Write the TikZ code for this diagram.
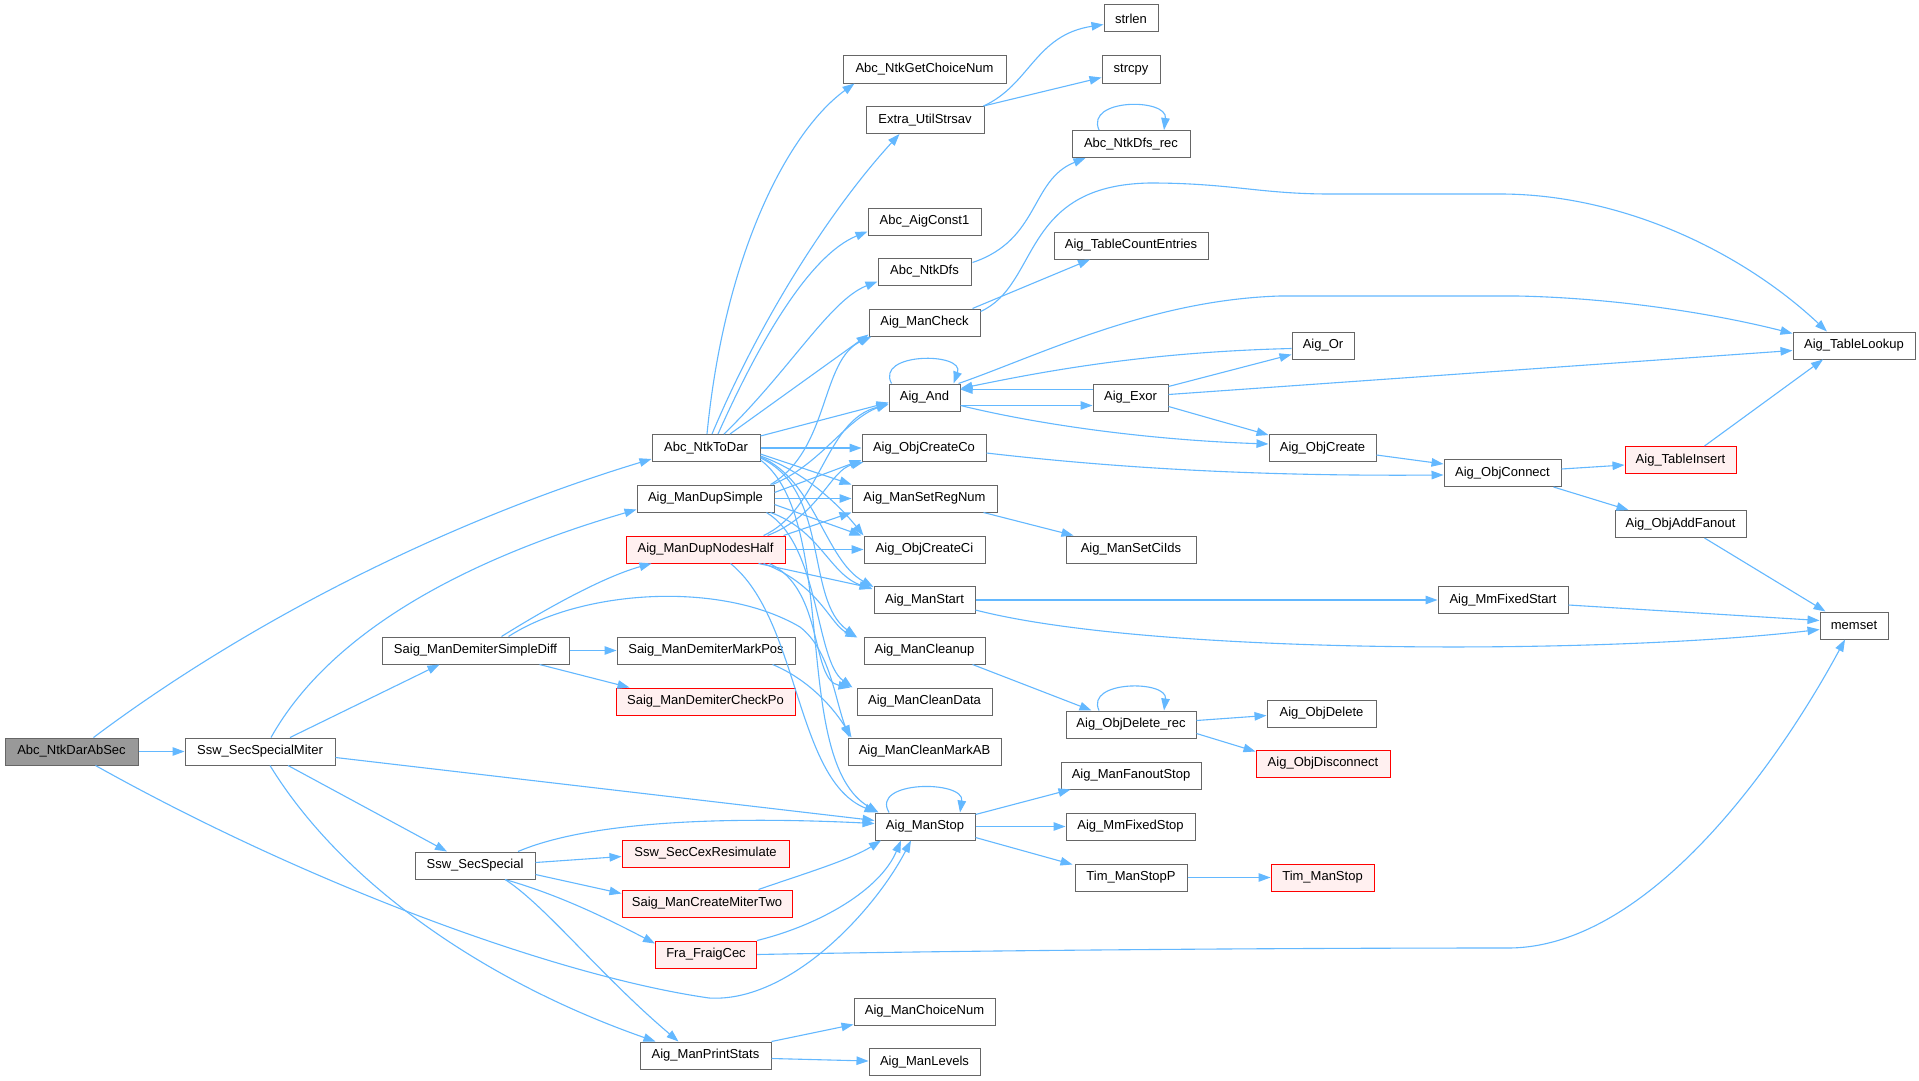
\documentclass[tikz,border=0pt]{standalone}
\usepackage{fontspec}
\setmainfont{Liberation Sans}
\usetikzlibrary{arrows.meta,calc}
\definecolor{edgeblue}{HTML}{63B8FF}
\definecolor{bordergray}{HTML}{666666}
\definecolor{rootgray}{HTML}{999999}
\definecolor{redborder}{HTML}{FF0000}
\definecolor{redfill}{HTML}{FFF0F0}
\tikzset{
  fn/.style={draw=bordergray, fill=white, line width=1pt, rectangle, minimum height=27pt,
    inner xsep=6pt, inner ysep=0pt, font=\fontsize{13pt}{15pt}\selectfont, anchor=center},
  redfn/.style={fn, draw=redborder, fill=redfill},
  rootfn/.style={fn, fill=rootgray},
  call/.style={draw=edgeblue, line width=1.1pt, -{Triangle[length=12pt,width=8.5pt]}},
}
\begin{document}
\begin{tikzpicture}[x=1pt,y=-1pt]
\fill[white] (0,0) rectangle (1919,1081);
\useasboundingbox (0,0) rectangle (1919,1081);

% column 0-2
\node[rootfn, minimum width=133pt] (root) at (71.5,751.5) {Abc\_NtkDarAbSec};
\node[fn, minimum width=150pt] (ssm) at (260,751.5) {Ssw\_SecSpecialMiter};
\node[fn, minimum width=187pt] (sdiff) at (475.5,650.5) {Saig\_ManDemiterSimpleDiff};
\node[fn, minimum width=120pt] (ss) at (475,865.5) {Ssw\_SecSpecial};
% column 3
\node[fn, minimum width=108pt] (ntd) at (706,448) {Abc\_NtkToDar};
\node[fn, minimum width=137pt] (dsimple) at (705.5,498.5) {Aig\_ManDupSimple};
\node[redfn, minimum width=159pt] (dnh) at (705.5,549.5) {Aig\_ManDupNodesHalf};
\node[fn, minimum width=178pt] (mpos) at (706,650.5) {Saig\_ManDemiterMarkPos};
\node[redfn, minimum width=179pt] (cpo) at (705.5,701.5) {Saig\_ManDemiterCheckPo};
\node[redfn, minimum width=167pt] (cex) at (705.5,853.5) {Ssw\_SecCexResimulate};
\node[redfn, minimum width=170pt] (cmt) at (707,903.5) {Saig\_ManCreateMiterTwo};
\node[redfn, minimum width=101pt] (fcec) at (706,954.5) {Fra\_FraigCec};
\node[fn, minimum width=131pt] (pstat) at (705.5,1055.5) {Aig\_ManPrintStats};
% column 4
\node[fn, minimum width=163pt] (gcn) at (924.5,69.5) {Abc\_NtkGetChoiceNum};
\node[fn, minimum width=118pt] (strsav) at (925,120) {Extra\_UtilStrsav};
\node[fn, minimum width=113pt] (const1) at (924.5,221.5) {Abc\_AigConst1};
\node[fn, minimum width=93pt] (dfs) at (924.5,271.5) {Abc\_NtkDfs};
\node[fn, minimum width=111pt] (mcheck) at (924.5,322.5) {Aig\_ManCheck};
\node[fn, minimum width=71pt] (and) at (924.5,397.5) {Aig\_And};
\node[fn, minimum width=124pt] (cco) at (924,448) {Aig\_ObjCreateCo};
\node[fn, minimum width=145pt] (srn) at (924.5,498.5) {Aig\_ManSetRegNum};
\node[fn, minimum width=121pt] (cci) at (924.5,549.5) {Aig\_ObjCreateCi};
\node[fn, minimum width=101pt] (mstart) at (924.5,600) {Aig\_ManStart};
\node[fn, minimum width=121pt] (mclean) at (924.5,650.5) {Aig\_ManCleanup};
\node[fn, minimum width=135pt] (cdata) at (924.5,701.5) {Aig\_ManCleanData};
\node[fn, minimum width=153pt] (cmab) at (924.5,751.5) {Aig\_ManCleanMarkAB};
\node[fn, minimum width=100pt] (mstop) at (925,826.5) {Aig\_ManStop};
\node[fn, minimum width=141pt] (choice) at (924.5,1011.5) {Aig\_ManChoiceNum};
\node[fn, minimum width=111pt] (levels) at (924.5,1062) {Aig\_ManLevels};
% column 5
\node[fn, minimum width=54pt] (strlen) at (1131,18.5) {strlen};
\node[fn, minimum width=58pt] (strcpy) at (1131,69.5) {strcpy};
\node[fn, minimum width=118pt] (dfsrec) at (1131,144) {Abc\_NtkDfs\_rec};
\node[fn, minimum width=154pt] (tce) at (1131,245.5) {Aig\_TableCountEntries};
\node[fn, minimum width=75pt] (exor) at (1130.5,397.5) {Aig\_Exor};
\node[fn, minimum width=130pt] (sciids) at (1131,549.5) {Aig\_ManSetCiIds};
\node[fn, minimum width=130pt] (delrec) at (1131,724.5) {Aig\_ObjDelete\_rec};
\node[fn, minimum width=140pt] (fostop) at (1131,775.5) {Aig\_ManFanoutStop};
\node[fn, minimum width=129pt] (mmstop) at (1130.5,826.5) {Aig\_MmFixedStop};
\node[fn, minimum width=112pt] (tstopp) at (1131,877.5) {Tim\_ManStopP};
% column 6
\node[fn, minimum width=62pt] (aor) at (1323,345.5) {Aig\_Or};
\node[fn, minimum width=107pt] (ocreate) at (1322.5,448) {Aig\_ObjCreate};
\node[fn, minimum width=109pt] (odel) at (1321.5,713.5) {Aig\_ObjDelete};
\node[redfn, minimum width=134pt] (odisc) at (1323,763.5) {Aig\_ObjDisconnect};
\node[redfn, minimum width=103pt] (tstop) at (1322.5,877.5) {Tim\_ManStop};
% column 7-9
\node[fn, minimum width=117pt] (oconn) at (1502.5,473) {Aig\_ObjConnect};
\node[fn, minimum width=130pt] (mmstart) at (1503,600) {Aig\_MmFixedStart};
\node[redfn, minimum width=111pt] (tins) at (1680.5,460) {Aig\_TableInsert};
\node[fn, minimum width=131pt] (afan) at (1680.5,524) {Aig\_ObjAddFanout};
\node[fn, minimum width=122pt] (tlook) at (1854,345.5) {Aig\_TableLookup};
\node[fn, minimum width=68pt] (memset) at (1854,625.5) {memset};

% ---- edges from root
\draw[call] ($(root.north)+(22,0)$) .. controls (250,620) and (450,520) .. ($(ntd.west)+(0,11)$);
\draw[call] (root.east) -- (ssm.west);
\draw[call] ($(root.south)+(24,0)$) .. controls (300,880) and (550,975) .. (709,998) .. controls (790,1003) and (875,910) .. ($(mstop.south)+(-14,0)$);

% ---- Ssw_SecSpecialMiter
\draw[call] ($(ssm.north)+(11,0)$) .. controls (320,650) and (430,570) .. ($(dsimple.south west)+(0,-3)$);
\draw[call] ($(ssm.north)+(30,0)$) -- ($(sdiff.south)+(-36,0)$);
\draw[call] ($(ssm.east)+(0,6)$) -- ($(mstop.west)+(0,-6)$);
\draw[call] ($(ssm.south)+(28,0)$) -- ($(ss.north)+(-28,0)$);
\draw[call] ($(ssm.south)+(10,0)$) .. controls (340,880) and (480,980) .. ($(pstat.north)+(-50,0)$);

% ---- Saig_ManDemiterSimpleDiff
\draw[call] ($(sdiff.north)+(26,0)$) .. controls (560,600) and (610,575) .. ($(dnh.south west)+(26,0)$);
\draw[call] ($(sdiff.north)+(33,0)$) .. controls (580,590) and (720,580) .. (800,627) .. controls (830,650) and (835,700) .. ($(cmab.north west)+(2,0)$);
\draw[call] (sdiff.east) -- (mpos.west);
\draw[call] ($(sdiff.south east)+(-30,0)$) -- ($(cpo.north west)+(14,0)$);
\draw[call] ($(mpos.south east)+(-23,0)$) .. controls (810,680) and (835,710) .. ($(cmab.north west)+(4,0)$);

% ---- Ssw_SecSpecial
\draw[call] ($(ss.north)+(43,0)$) .. controls (580,825) and (700,815) .. ($(mstop.west)+(0,-3)$);
\draw[call] ($(ss.east)+(0,-3)$) -- ($(cex.west)+(0,3)$);
\draw[call] ($(ss.east)+(0,9)$) -- ($(cmt.west)+(0,-10)$);
\draw[call] ($(ss.south)+(30,0)$) .. controls (560,895) and (610,920) .. ($(fcec.north west)+(0,3)$);
\draw[call] ($(ss.south)+(30,0)$) .. controls (545,905) and (600,975) .. ($(pstat.north)+(-27,0)$);

\draw[call] ($(cmt.north east)+(-34,0)$) .. controls (800,875) and (850,860) .. ($(mstop.south)+(-44,0)$);
\draw[call] (fcec.north east) .. controls (820,925) and (880,890) .. ($(mstop.south)+(-24,0)$);
\draw[call] (fcec.east) .. controls (1000,950) and (1300,948) .. (1508,948) .. controls (1650,948) and (1780,760) .. ($(memset.south)+(-9,0)$);
\draw[call] (pstat.north east) -- ($(choice.west)+(0,13)$);
\draw[call] ($(pstat.east)+(0,3)$) -- ($(levels.west)+(0,-1)$);

% ---- Abc_NtkToDar
\draw[call] ($(ntd.north)+(1,0)$) .. controls (725,250) and (790,130) .. ($(gcn.south west)+(12,0)$);
\draw[call] ($(ntd.north)+(6,0)$) .. controls (760,320) and (830,210) .. ($(strsav.south west)+(34,0)$);
\draw[call] ($(ntd.north)+(12,0)$) .. controls (760,340) and (810,255) .. ($(const1.west)+(0,10)$);
\draw[call] ($(ntd.north)+(18,0)$) .. controls (790,370) and (830,300) .. ($(dfs.west)+(0,10)$);
\draw[call] ($(ntd.north)+(24,0)$) -- ($(mcheck.south west)+(0,-2)$);
\draw[call] ($(ntd.north east)+(0,2)$) -- ($(and.west)+(0,5)$);
\draw[call] (ntd.east) -- (cco.west);
\draw[call] ($(ntd.east)+(0,6)$) -- (srn.north west);
\draw[call] ($(ntd.east)+(0,8)$) .. controls (800,470) and (835,500) .. (cci.north west);
\draw[call] ($(ntd.east)+(0,9)$) .. controls (815,480) and (825,560) .. ($(mstart.north west)+(0,1)$);
\draw[call] ($(ntd.east)+(0,10)$) .. controls (830,490) and (805,600) .. ($(mclean.north west)+(-7,0)$);
\draw[call] ($(ntd.east)+(0,12)$) .. controls (840,520) and (790,760) .. ($(mstop.north west)+(4,0)$);

% ---- Aig_ManDupSimple
\draw[call] ($(dsimple.north east)+(-4,0)$) .. controls (830,450) and (820,360) .. ($(mcheck.south west)+(3,0)$);
\draw[call] ($(dsimple.north east)+(-2,0)$) .. controls (820,465) and (845,420) .. ($(and.west)+(0,6)$);
\draw[call] ($(dsimple.east)+(0,-6)$) -- ($(cco.south west)+(0,-2)$);
\draw[call] (dsimple.east) -- (srn.west);
\draw[call] ($(dsimple.east)+(0,6)$) -- ($(cci.north west)+(-2,0)$);
\draw[call] ($(dsimple.south east)+(-4,0)$) .. controls (820,530) and (830,575) .. ($(mstart.north west)+(-1,3)$);
\draw[call] ($(dsimple.south east)+(-8,0)$) .. controls (820,545) and (815,660) .. ($(cdata.north west)+(-4,0)$);

% ---- Aig_ManDupNodesHalf
\draw[call] ($(dnh.north east)+(-22,0)$) .. controls (820,510) and (825,420) .. ($(and.west)+(0,7)$);
\draw[call] ($(dnh.north east)+(-18,0)$) .. controls (820,515) and (830,470) .. ($(cco.south west)+(2,0)$);
\draw[call] ($(dnh.north east)+(-2,0)$) -- (srn.south west);
\draw[call] (dnh.east) -- (cci.west);
\draw[call] ($(dnh.south east)+(-27,0)$) -- ($(mstart.north west)+(-2,2)$);
\draw[call] ($(dnh.south east)+(-22,0)$) .. controls (820,585) and (830,625) .. ($(mclean.north west)+(-6,1)$);
\draw[call] ($(dnh.south east)+(-16,0)$) .. controls (825,590) and (810,680) .. ($(cdata.north west)+(-6,0)$);
\draw[call] ($(dnh.south)+(25,0)$) .. controls (800,620) and (795,780) .. ($(mstop.north west)+(2,0)$);

% ---- column 4 outgoing
\draw[call] ($(strsav.north east)+(-1,0)$) .. controls (1030,85) and (1035,35) .. ($(strlen.west)+(0,6)$);
\draw[call] ($(strsav.north east)+(-1,0)$) -- ($(strcpy.west)+(0,8)$);
\draw[call] ($(dfs.north east)+(1,5)$) .. controls (1040,240) and (1030,180) .. ($(dfsrec.south west)+(14,0)$);
\draw[call] ($(dfsrec.north)+(-32,0)$) .. controls (1085,98) and (1168,98) .. ($(dfsrec.north)+(33,0)$);
\draw[call] ($(mcheck.north east)+(-8,0)$) -- ($(tce.south)+(-41,0)$);
\draw[call] ($(mcheck.north east)+(0,3)$) .. controls (1040,285) and (1020,185) .. (1150,183) .. controls (1230,183) and (1260,194) .. (1330,194) -- (1500,194) .. controls (1620,194) and (1740,250) .. ($(tlook.north)+(-27,0)$);

\draw[call] ($(and.north)+(-33,0)$) .. controls (875,352) and (965,352) .. ($(and.north)+(29,0)$);
\draw[call] ($(and.north east)+(-2,0)$) .. controls (1040,355) and (1150,300) .. (1280,296) -- (1517,296) .. controls (1620,298) and (1720,315) .. ($(tlook.north west)+(0,2)$);
\draw[call] ($(and.east)+(0,8)$) -- ($(exor.west)+(0,8)$);
\draw[call] ($(exor.west)+(0,-8)$) -- ($(and.east)+(0,-8)$);
\draw[call] ($(aor.west)+(0,3)$) .. controls (1150,352) and (1050,370) .. ($(and.east)+(0,-9)$);
\draw[call] ($(and.east)+(0,8)$) .. controls (1040,425) and (1150,440) .. ($(ocreate.west)+(0,-4)$);
\draw[call] ($(exor.north east)+(0,3)$) -- ($(aor.west)+(0,9)$);
\draw[call] ($(exor.east)+(0,-3)$) -- ($(tlook.west)+(0,5)$);
\draw[call] ($(exor.east)+(0,9)$) -- ($(ocreate.west)+(0,-13)$);

\draw[call] ($(cco.east)+(0,5)$) .. controls (1150,472) and (1300,476) .. ($(oconn.west)+(0,2)$);
\draw[call] ($(ocreate.east)+(0,7)$) -- ($(oconn.west)+(0,-9)$);
\draw[call] ($(oconn.east)+(0,-4)$) -- ($(tins.west)+(0,5)$);
\draw[call] ($(oconn.south east)+(-8,0)$) -- ($(afan.north west)+(14,0)$);
\draw[call] ($(tins.north)+(24,0)$) -- ($(tlook.south)+(-31,0)$);
\draw[call] ($(afan.south)+(24,0)$) -- ($(memset.north west)+(6,0)$);

\draw[call] (mstart.east) -- (mmstart.west);
\draw[call] ($(mstart.east)+(0,10)$) .. controls (1150,655) and (1600,655) .. ($(memset.west)+(0,4)$);
\draw[call] ($(mmstart.east)+(0,5)$) -- ($(memset.west)+(0,-5)$);
\draw[call] ($(srn.south east)+(-14,0)$) -- ($(sciids.north west)+(8,0)$);
\draw[call] ($(mclean.south east)+(-13,0)$) -- ($(delrec.north west)+(26,0)$);
\draw[call] ($(delrec.north)+(-32,0)$) .. controls (1085,680) and (1168,680) .. ($(delrec.north)+(33,0)$);
\draw[call] ($(delrec.east)+(0,-4)$) -- ($(odel.west)+(0,2)$);
\draw[call] ($(delrec.east)+(0,9)$) -- ($(odisc.west)+(0,-12)$);

\draw[call] ($(mstop.north)+(-36,0)$) .. controls (870,780) and (965,780) .. ($(mstop.north)+(35,0)$);
\draw[call] ($(mstop.north east)+(0,2)$) -- ($(fostop.south west)+(10,0)$);
\draw[call] (mstop.east) -- (mmstop.west);
\draw[call] ($(mstop.east)+(0,11)$) -- ($(tstopp.north west)+(-2,1)$);
\draw[call] (tstopp.east) -- (tstop.west);
\end{tikzpicture}
\end{document}
